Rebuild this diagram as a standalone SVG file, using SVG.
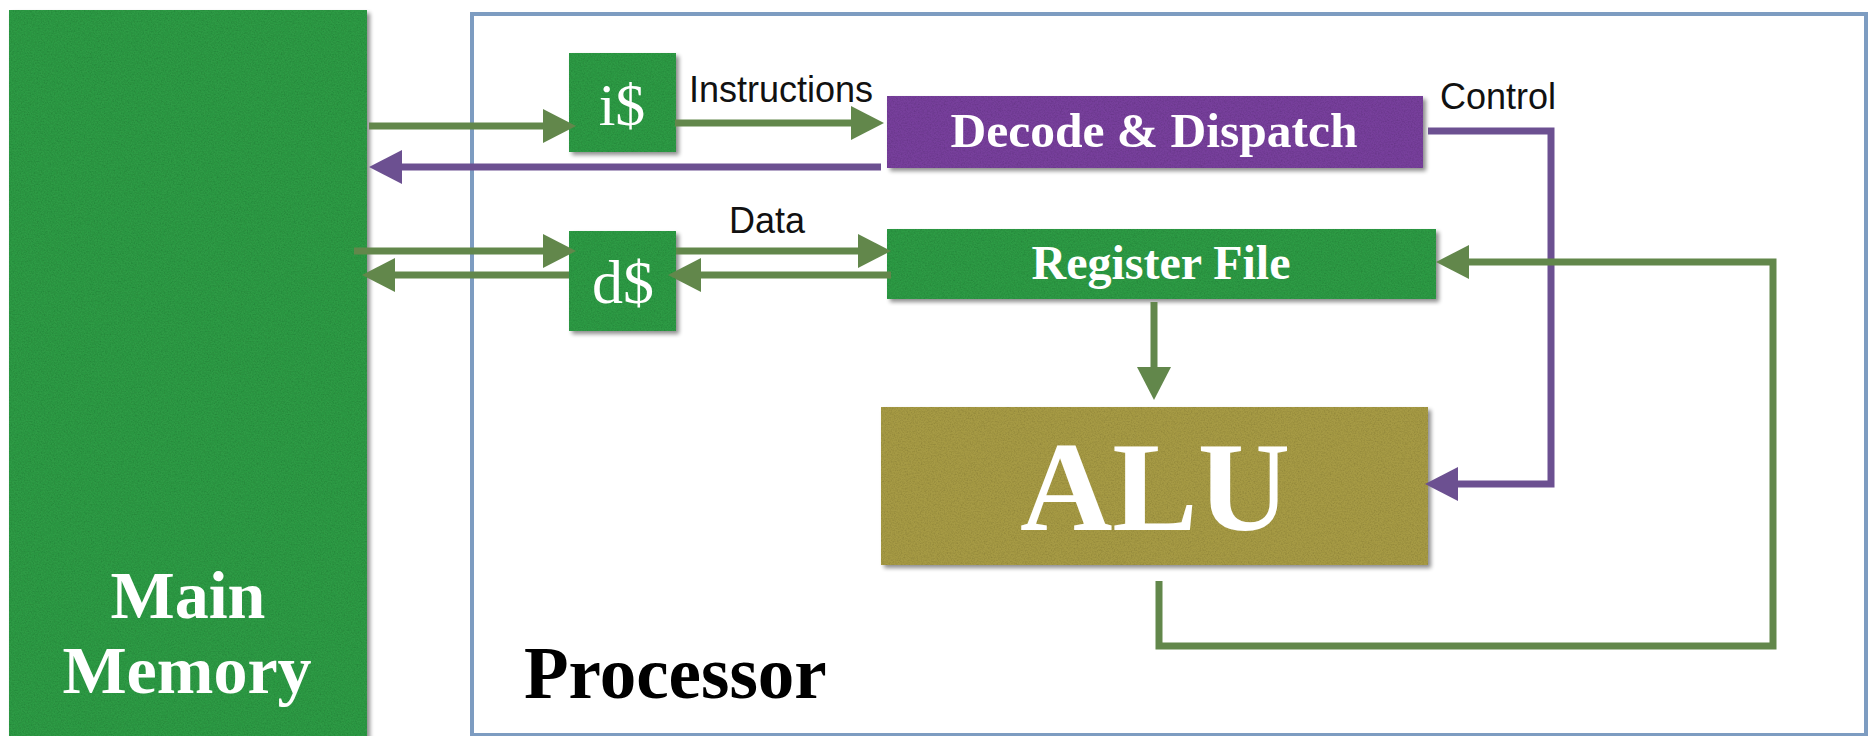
<svg xmlns="http://www.w3.org/2000/svg" width="1870" height="736" viewBox="0 0 1870 736">
  <style>
    .box-green { fill: #2f9a44; }
    .box-purple { fill: #773f9b; }
    .box-olive { fill: #a69a44; }
    .serif-w { font-family: "Liberation Serif", "Times New Roman", serif; fill: #ffffff; }
    .bold { font-weight: bold; }
    .label { font-family: "Liberation Sans", Arial, sans-serif; font-size: 36px; fill: #111111; }
    .wire-g { fill: none; stroke: #62874b; stroke-width: 7; }
    .wire-p { fill: none; stroke: #6c5091; stroke-width: 7; }
  </style>
  <defs>
    <marker id="head-g" markerUnits="userSpaceOnUse" markerWidth="34" markerHeight="34" refX="3" refY="17" orient="auto">
      <path d="M0,0 L33,17 L0,34 z" fill="#62874b"/>
    </marker>
    <marker id="head-p" markerUnits="userSpaceOnUse" markerWidth="34" markerHeight="34" refX="3" refY="17" orient="auto">
      <path d="M0,0 L33,17 L0,34 z" fill="#6c5091"/>
    </marker>
    <!-- card look: faint paper grain plus a soft drop shadow -->
    <filter id="card" x="-5%" y="-5%" width="115%" height="115%">
      <feTurbulence type="fractalNoise" baseFrequency="0.7" numOctaves="3" seed="7" result="noise"/>
      <feColorMatrix in="noise" type="matrix" values="0 0 0 0 0  0 0 0 0 0  0 0 0 0 0  0.5 0 0 0 -0.2" result="grain"/>
      <feComposite in="grain" in2="SourceAlpha" operator="in" result="grainIn"/>
      <feGaussianBlur in="SourceAlpha" stdDeviation="2" result="blur"/>
      <feOffset in="blur" dx="3" dy="3" result="off"/>
      <feComponentTransfer in="off" result="shadow">
        <feFuncA type="linear" slope="0.45"/>
      </feComponentTransfer>
      <feMerge>
        <feMergeNode in="shadow"/>
        <feMergeNode in="SourceGraphic"/>
        <feMergeNode in="grainIn"/>
      </feMerge>
    </filter>
  </defs>

  <rect width="1870" height="736" fill="#ffffff"/>

  <!-- processor outline -->
  <g id="processor">
    <rect x="472" y="14" width="1394" height="721" fill="none" stroke="#7d9cc1" stroke-width="4"/>
    <text x="524" y="698" font-family="'Liberation Serif', 'Times New Roman', serif" font-weight="bold" font-size="73" fill="#000000">Processor</text>
  </g>

  <g id="main-memory">
    <rect class="box-green" x="9" y="10" width="358" height="730" filter="url(#card)"/>
    <text class="serif-w bold" x="188" y="618" font-size="68" text-anchor="middle">Main</text>
    <text class="serif-w bold" x="187" y="693" font-size="68" text-anchor="middle">Memory</text>
  </g>

  <g id="icache">
    <rect class="box-green" x="569" y="53" width="107" height="99" filter="url(#card)"/>
    <text class="serif-w" x="622" y="125" font-size="60" text-anchor="middle">i$</text>
  </g>

  <g id="dcache">
    <rect class="box-green" x="569" y="231" width="107" height="100" filter="url(#card)"/>
    <text class="serif-w" x="623" y="303" font-size="62" text-anchor="middle">d$</text>
  </g>

  <g id="decode">
    <rect class="box-purple" x="887" y="96" width="536" height="72" filter="url(#card)"/>
    <text class="serif-w bold" x="1154" y="147" font-size="49" text-anchor="middle" textLength="407" lengthAdjust="spacingAndGlyphs">Decode &amp; Dispatch</text>
  </g>

  <g id="register-file">
    <rect class="box-green" x="887" y="229" width="549" height="70" filter="url(#card)"/>
    <text class="serif-w bold" x="1161" y="279" font-size="48" text-anchor="middle">Register File</text>
  </g>

  <g id="alu">
    <rect class="box-olive" x="881" y="407" width="547" height="158" filter="url(#card)"/>
    <text class="serif-w bold" x="1155" y="530" font-size="128" text-anchor="middle">ALU</text>
  </g>

  <g id="connectors">
    <!-- instruction fetch path -->
    <path class="wire-g" d="M369,126 H546" marker-end="url(#head-g)"/>
    <path class="wire-g" d="M675,123 H854" marker-end="url(#head-g)"/>
    <path class="wire-p" d="M881,167 H399" marker-end="url(#head-p)"/>
    <!-- data path -->
    <path class="wire-g" d="M354,251 H546" marker-end="url(#head-g)"/>
    <path class="wire-g" d="M569,275 H392" marker-end="url(#head-g)"/>
    <path class="wire-g" d="M676,251 H861" marker-end="url(#head-g)"/>
    <path class="wire-g" d="M891,275 H698" marker-end="url(#head-g)"/>
    <!-- operands into ALU -->
    <path class="wire-g" d="M1154,302 V370" marker-end="url(#head-g)"/>
    <!-- control to ALU -->
    <path class="wire-p" d="M1428,131 H1551 V484 H1455" marker-end="url(#head-p)"/>
    <!-- ALU result back to register file -->
    <path class="wire-g" d="M1159,581 V646 H1773 V262 H1466" marker-end="url(#head-g)"/>
  </g>

  <g id="labels">
    <text class="label" x="689" y="102">Instructions</text>
    <text class="label" x="729" y="233" font-size="35">Data</text>
    <text class="label" x="1440" y="109">Control</text>
  </g>
</svg>
